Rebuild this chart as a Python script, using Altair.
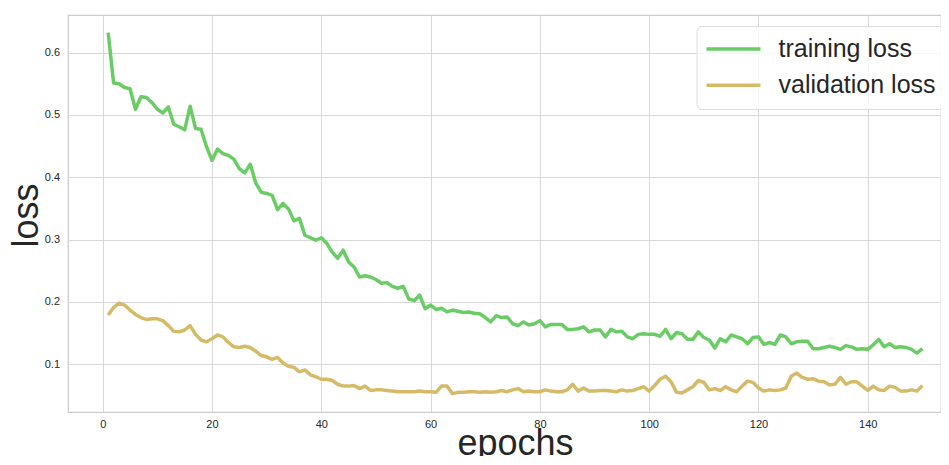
import altair as alt
import pandas as pd

epochs = list(range(1, 151))

training_loss = [
    0.632, 0.551, 0.550, 0.544, 0.542, 0.509, 0.529, 0.528, 0.520, 0.509,
    0.503, 0.513, 0.485, 0.481, 0.476, 0.514, 0.478, 0.477, 0.449, 0.427,
    0.445, 0.438, 0.435, 0.429, 0.414, 0.407, 0.421, 0.391, 0.376, 0.374,
    0.371, 0.348, 0.358, 0.349, 0.330, 0.334, 0.307, 0.303, 0.299, 0.303,
    0.294, 0.280, 0.270, 0.283, 0.264, 0.256, 0.240, 0.242, 0.240, 0.236,
    0.230, 0.231, 0.225, 0.222, 0.225, 0.205, 0.202, 0.211, 0.189, 0.195,
    0.188, 0.190, 0.184, 0.187, 0.185, 0.183, 0.184, 0.182, 0.181, 0.175,
    0.168, 0.178, 0.175, 0.176, 0.165, 0.162, 0.168, 0.163, 0.165, 0.170,
    0.160, 0.164, 0.164, 0.164, 0.156, 0.156, 0.157, 0.160, 0.152, 0.155,
    0.155, 0.144, 0.156, 0.152, 0.153, 0.144, 0.141, 0.148, 0.149, 0.148,
    0.148, 0.145, 0.156, 0.141, 0.151, 0.149, 0.140, 0.140, 0.152, 0.143,
    0.139, 0.126, 0.141, 0.136, 0.147, 0.144, 0.141, 0.133, 0.143, 0.144,
    0.132, 0.135, 0.132, 0.147, 0.144, 0.133, 0.136, 0.137, 0.137, 0.125,
    0.125, 0.127, 0.129, 0.127, 0.124, 0.130, 0.128, 0.124, 0.125, 0.124,
    0.131, 0.140, 0.128, 0.133, 0.127, 0.128, 0.127, 0.124, 0.118, 0.125,
]

validation_loss = [
    0.179, 0.191, 0.198, 0.195, 0.187, 0.180, 0.175, 0.172, 0.173, 0.173,
    0.170, 0.162, 0.153, 0.152, 0.155, 0.162, 0.148, 0.139, 0.136, 0.141,
    0.147, 0.144, 0.135, 0.128, 0.127, 0.129, 0.127, 0.121, 0.114, 0.112,
    0.108, 0.111, 0.102, 0.097, 0.095, 0.088, 0.091, 0.083, 0.080, 0.076,
    0.076, 0.074, 0.068, 0.065, 0.065, 0.066, 0.061, 0.065, 0.058, 0.059,
    0.059, 0.058, 0.057, 0.056, 0.056, 0.056, 0.056, 0.057, 0.056, 0.056,
    0.055, 0.065, 0.065, 0.053, 0.055, 0.055, 0.056, 0.056, 0.055, 0.056,
    0.055, 0.056, 0.058, 0.056, 0.059, 0.061, 0.056, 0.057, 0.056, 0.056,
    0.059, 0.057, 0.056, 0.056, 0.059, 0.068, 0.057, 0.062, 0.057, 0.057,
    0.058, 0.058, 0.057, 0.056, 0.059, 0.057, 0.058, 0.061, 0.064, 0.057,
    0.066, 0.076, 0.081, 0.072, 0.055, 0.054, 0.059, 0.064, 0.074, 0.071,
    0.059, 0.061, 0.058, 0.064, 0.059, 0.056, 0.065, 0.073, 0.071, 0.062,
    0.057, 0.059, 0.058, 0.059, 0.062, 0.081, 0.086, 0.079, 0.076, 0.077,
    0.073, 0.072, 0.067, 0.068, 0.079, 0.068, 0.072, 0.072, 0.065, 0.058,
    0.065, 0.059, 0.058, 0.065, 0.063, 0.057, 0.057, 0.059, 0.057, 0.066,
]

series_names = ["training loss", "validation loss"]
series_colors = ["#6acc64", "#d5bb67"]
x_ticks = [0, 20, 40, 60, 80, 100, 120, 140]
y_ticks = [0.1, 0.2, 0.3, 0.4, 0.5, 0.6]

df = pd.concat([
    pd.DataFrame({"epoch": epochs, "loss": training_loss, "series": series_names[0]}),
    pd.DataFrame({"epoch": epochs, "loss": validation_loss, "series": series_names[1]}),
])

FONT = "Liberation Sans"
TXT = "#262626"

chart = alt.Chart(df).mark_line(strokeWidth=3.5, strokeJoin="round", clip=True).encode(
    x=alt.X(
        "epoch:Q",
        scale=alt.Scale(domain=[-6.35, 153.4], nice=False, zero=False),
        axis=alt.Axis(
            title="epochs", values=x_ticks, ticks=False, domain=False,
            labelFontSize=11, labelFont=FONT, labelColor=TXT, labelPadding=6,
            titleFontSize=36, titleFont=FONT, titleFontWeight="normal", titleColor=TXT,
            titleX=447, titleY=42, titleAlign="center", titleBaseline="alphabetic",
            gridColor="#d8d8d8", gridWidth=1,
        ),
    ),
    y=alt.Y(
        "loss:Q",
        scale=alt.Scale(domain=[0.0235, 0.6602], nice=False, zero=False),
        axis=alt.Axis(
            title="loss", values=y_ticks, format=".1f", ticks=False, domain=False,
            labelFontSize=11, labelFont=FONT, labelColor=TXT, labelPadding=8.5,
            titleFontSize=36, titleFont=FONT, titleFontWeight="normal", titleColor=TXT,
            titleAngle=270, titleX=-31, titleY=200, titleAlign="center",
            titleBaseline="alphabetic",
            gridColor="#d8d8d8", gridWidth=1,
        ),
    ),
    color=alt.Color(
        "series:N",
        scale=alt.Scale(domain=series_names, range=series_colors),
        legend=alt.Legend(
            title=None, orient="none", legendX=628.5, legendY=11,
            symbolType="stroke", symbolSize=2916, symbolStrokeWidth=3.5,
            labelFontSize=25, labelFont=FONT, labelColor=TXT, labelOffset=16,
            labelLimit=400, clipHeight=30, rowPadding=6.3, padding=8,
            fillColor="rgba(255,255,255,0.8)", strokeColor="#dddddd",
            cornerRadius=5,
        ),
    ),
).properties(
    width=873,
    height=397,
    autosize=alt.AutoSizeParams(type="none"),
    padding={"left": 60, "top": 7, "right": 0, "bottom": 44},
    background="white",
).configure_view(
    stroke="#cccccc", strokeWidth=1.25,
)

chart.save("out.html", embed_options={"renderer": "svg", "actions": False})
